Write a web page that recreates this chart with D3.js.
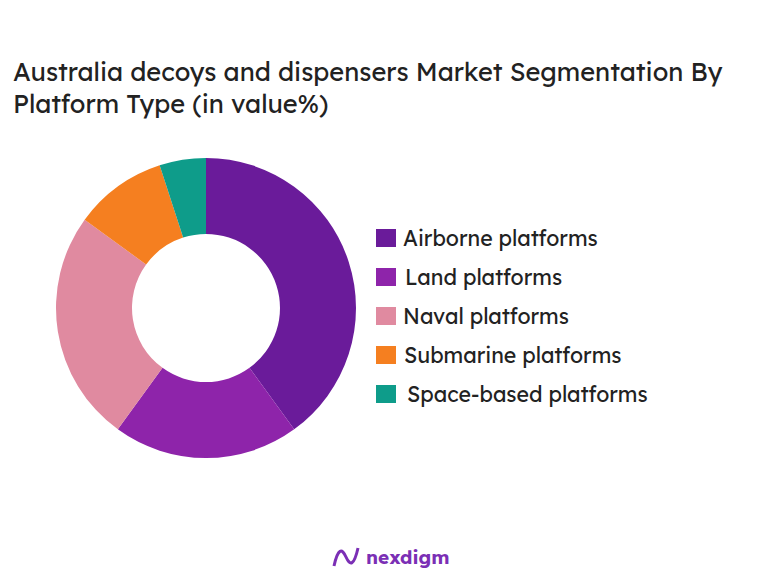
<!DOCTYPE html>
<html><head><meta charset="utf-8">
<script src="https://cdn.jsdelivr.net/npm/d3@7"></script>
<style>body{margin:0;background:#fff}</style></head>
<body><svg id="c" width="769" height="575"></svg>
<script>
const categories=["Airborne platforms","Land platforms","Naval platforms","Submarine platforms","Space-based platforms"];
const values=[40,20,25,10,5];
const colors=["#6a1b9a","#8e24aa","#e08aa0","#f57f20","#0e9c8a"];
const svg=d3.select("#c");
const font="Lexend, 'Noto Sans', sans-serif";
svg.append("text").attr("x",13).attr("y",81).attr("font-family",font).attr("font-size",25.4).attr("fill","#222").text("Australia decoys and dispensers Market Segmentation By");
svg.append("text").attr("x",13).attr("y",113).attr("font-family",font).attr("font-size",25.4).attr("fill","#222").text("Platform Type (in value%)");
const pie=d3.pie().sort(null).value(d=>d)(values);
const arc=d3.arc().innerRadius(74).outerRadius(150);
const g=svg.append("g").attr("transform","translate(206,308)");
g.selectAll("path").data(pie).join("path").attr("d",arc).attr("fill",(d,i)=>colors[i]);
const lg=svg.append("g");
const lx=[403,405,403,404,407];
categories.forEach((c,i)=>{
  const y=238+i*39;
  lg.append("rect").attr("x",376).attr("y",y-9).attr("width",20).attr("height",18).attr("fill",colors[i]);
  lg.append("text").attr("x",lx[i]).attr("y",y+8).attr("font-family",font).attr("font-size",21.3).attr("fill","#222").text(c);
});
const lgo=svg.append("g");
lgo.append("path").attr("d","M334 566 C338 548 342 548 346 557 C350 566 354 566 358 548").attr("stroke","#7b2fb5").attr("stroke-width",3).attr("fill","none");
lgo.append("text").attr("x",366).attr("y",564).attr("font-family",font).attr("font-size",19).attr("font-weight","bold").attr("fill","#7b2fb5").text("nexdigm");
</script></body></html>
